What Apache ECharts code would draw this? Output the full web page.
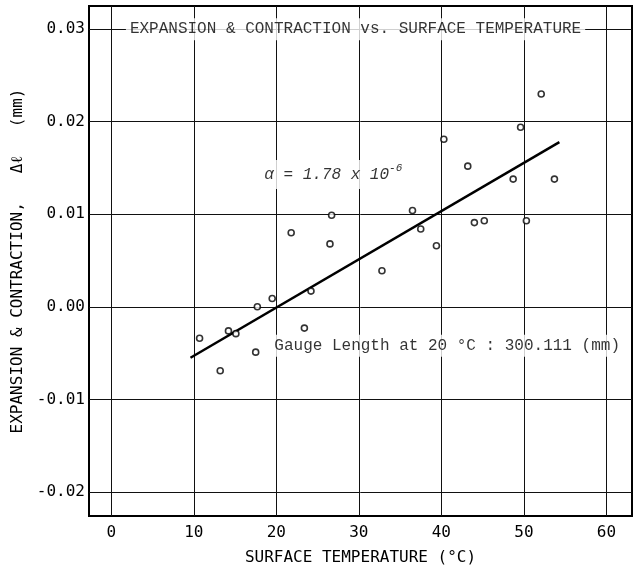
<!DOCTYPE html>
<html>
<head>
<meta charset="utf-8">
<script src="https://cdn.jsdelivr.net/npm/echarts@6/dist/echarts.min.js"></script>
<style>
  html, body { margin: 0; padding: 0; background: #fff; }
  #chart { width: 634px; height: 568px; }
</style>
</head>
<body>
<div id="chart"></div>
<script>
// Data
// ------------------------------

// measured points: surface temperature (°C) and expansion (mm)
var tempC = [10.7, 14.2, 15.1, 13.2, 17.5, 17.7, 19.5, 23.4, 24.2,
             21.8, 26.7, 26.5, 32.8, 52.1, 49.6, 40.3, 43.2, 48.7,
             53.7, 36.5, 37.5, 39.4, 44.0, 45.2, 50.3];
var expansion = [-0.0034, -0.0026, -0.0029, -0.0069, -0.0049, 0.0000, 0.0009, -0.0023, 0.0017,
                 0.0080, 0.0099, 0.0068, 0.0039, 0.0230, 0.0194, 0.0181, 0.0152, 0.0138,
                 0.0138, 0.0104, 0.0084, 0.0066, 0.0091, 0.0093, 0.0093];

// fitted line end points
var fitX = [9.6, 54.3];
var fitY = [-0.0055, 0.0178];

// tick labels
var xTicks = [0, 10, 20, 30, 40, 50, 60];
var yTicks = [-0.02, -0.01, 0.00, 0.01, 0.02, 0.03];

// axis extents (the frame sits a little outside the outer gridlines)
var xRange = [-2.7, 63.1];
var yRange = [-0.0226, 0.0325];

// annotation texts, anchored in data space
var notes = [
    { name: 'EXPANSION & CONTRACTION vs. SURFACE TEMPERATURE', x: 29.6, y: 0.03 },
    { name: 'alpha', x: 26.9, y: 0.0143 },
    { name: 'Gauge Length at 20 °C : 300.111 (mm)', x: 40.7, y: -0.0042 }
];

var EchartsExpansion = function() {

    var _init = function() {
        if (typeof echarts == 'undefined') {
            console.warn('Warning - echarts.min.js is not loaded.');
            return;
        }

        var el = document.getElementById('chart');
        var chart = echarts.init(el);

        var sansFont = '"DejaVu Sans Mono", monospace';
        var monoFont = '"Liberation Mono", "DejaVu Sans Mono", monospace';

        var points = tempC.map(function(t, i) { return [t, expansion[i]]; });
        var fit = fitX.map(function(t, i) { return [t, fitY[i]]; });

        var option = {
            animation: false,
            textStyle: {
                fontFamily: sansFont,
                color: '#000'
            },

            grid: {
                left: 89,
                right: 2,
                top: 6,
                bottom: 52,
                outerBoundsMode: 'none',
                show: true,
                borderColor: '#000',
                borderWidth: 2,
                backgroundColor: '#fff'
            },

            xAxis: {
                type: 'value',
                min: xRange[0],
                max: xRange[1],
                name: 'SURFACE TEMPERATURE (°C)',
                nameLocation: 'middle',
                nameGap: 34,
                nameTextStyle: { fontSize: 16, color: '#000', fontFamily: sansFont },
                axisLine: { show: false },
                axisTick: { show: false, customValues: xTicks },
                axisLabel: {
                    customValues: xTicks,
                    fontSize: 16,
                    color: '#000',
                    margin: 9
                },
                splitLine: { show: true, lineStyle: { color: '#111', width: 1 } }
            },

            yAxis: {
                type: 'value',
                min: yRange[0],
                max: yRange[1],
                name: 'EXPANSION & CONTRACTION,   \u0394\u2113   (mm)',
                nameLocation: 'middle',
                nameGap: 60,
                nameTextStyle: { fontSize: 16, color: '#000', fontFamily: sansFont },
                axisLine: { show: false },
                axisTick: { show: false, customValues: yTicks },
                axisLabel: {
                    customValues: yTicks,
                    fontSize: 16,
                    color: '#000',
                    margin: 4,
                    formatter: function(v) { return v.toFixed(2); }
                },
                splitLine: { show: true, lineStyle: { color: '#111', width: 1 } }
            },

            series: [
                {
                    name: 'fit',
                    type: 'line',
                    data: fit,
                    symbol: 'none',
                    lineStyle: { color: '#000', width: 2.5 },
                    z: 3
                },
                {
                    name: 'measured',
                    type: 'scatter',
                    data: points,
                    symbol: 'circle',
                    symbolSize: 6,
                    itemStyle: { color: '#fff', borderColor: '#000', borderWidth: 1.6 },
                    z: 4
                },
                {
                    name: 'notes',
                    type: 'scatter',
                    data: notes.map(function(n) { return { name: n.name, value: [n.x, n.y] }; }),
                    symbolSize: 0,
                    silent: true,
                    z: 5,
                    label: {
                        show: true,
                        position: 'inside',
                        fontFamily: monoFont,
                        fontSize: 16,
                        color: '#000',
                        backgroundColor: '#fff',
                        padding: [3, 4],
                        formatter: function(p) {
                            if (p.name === 'alpha') {
                                return '{a|\u03b1 = 1.78 x 10}{s|-6}';
                            }
                            return p.name;
                        },
                        rich: {
                            a: { fontFamily: monoFont, fontSize: 16, fontStyle: 'italic', color: '#000' },
                            s: { fontFamily: monoFont, fontSize: 11, fontStyle: 'italic', color: '#000', padding: [0, 0, 12, 0] }
                        }
                    }
                }
            ]
        };

        chart.setOption(option);

        window.onresize = function() {
            chart.resize();
        };
    };

    return {
        init: function() {
            _init();
        }
    };
}();

document.addEventListener('DOMContentLoaded', function() {
    EchartsExpansion.init();
});
</script>
</body>
</html>
